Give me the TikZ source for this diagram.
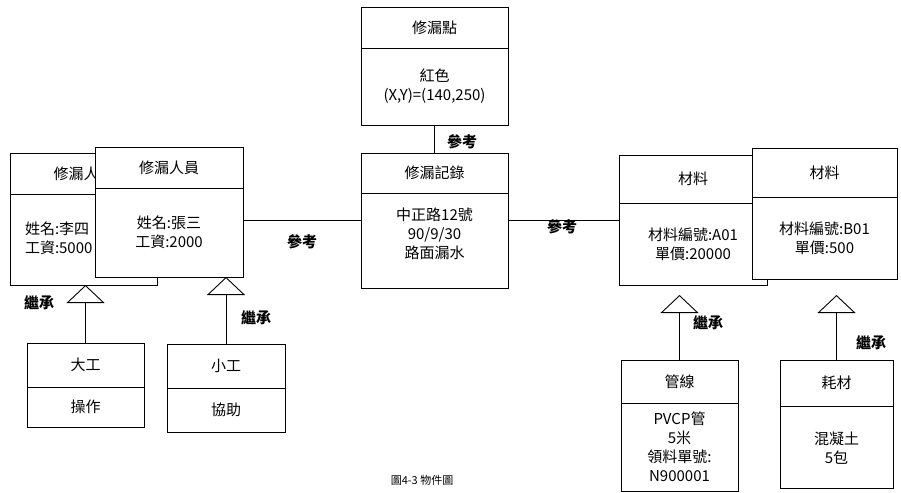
\documentclass[tikz,border=0pt]{standalone}
\usepackage{fontspec}
\setmainfont{Noto Sans CJK TC}
\usetikzlibrary{arrows.meta,positioning}

\begin{document}
\begin{tikzpicture}[x=1pt,y=-1pt,
  box/.style={draw,line width=0.9pt,fill=white,outer sep=0pt,inner sep=2pt,
    align=center,font=\fontsize{15}{19}\selectfont},
  inh/.style={line width=0.9pt,-{Triangle[open,length=18pt,width=38pt,line width=0.9pt]}},
  rel/.style={line width=0.9pt},
  lab/.style={font=\fontsize{15}{17}\selectfont\bfseries}]
\useasboundingbox (0,0) rectangle (901,492);

% Repair staff (back copy)
\node[box,minimum width=147pt,minimum height=41pt] (ls-h) at (83.5,173.5) {修漏人員};
\node[box,minimum width=147pt,minimum height=91pt,text width=117pt,inner xsep=15pt,
  align=left,below=0pt of ls-h] (ls-b) {\\[-8pt]姓名:李四\\工資:5000};

% Repair staff (front copy)
\node[box,minimum width=148pt,minimum height=41pt] (ps-h) at (169,167.5) {修漏人員};
\node[box,minimum width=148pt,minimum height=89pt,below=0pt of ps-h] (ps-b) {姓名:張三\\工資:2000};

% Workers
\node[box,minimum width=117pt,minimum height=44pt] (dg-h) at (85.5,365) {大工};
\node[box,minimum width=117pt,minimum height=40pt,below=0pt of dg-h] (dg-b) {操作};
\node[box,minimum width=118pt,minimum height=44pt] (xg-h) at (226,366) {小工};
\node[box,minimum width=118pt,minimum height=44pt,below=0pt of xg-h] (xg-b) {協助};

% Leak point and record
\node[box,minimum width=147pt,minimum height=41pt] (pt-h) at (434.5,27.5) {修漏點};
\node[box,minimum width=147pt,minimum height=77pt,below=0pt of pt-h] (pt-b) {紅色\\(X,Y)=(140,250)};
\node[box,minimum width=147pt,minimum height=40pt] (rec-h) at (434.5,173) {修漏記錄};
\node[box,minimum width=147pt,minimum height=95pt,below=0pt of rec-h] (rec-b) {中正路12號\\90/9/30\\路面漏水\\[-4pt]};

% Materials
\node[box,minimum width=148pt,minimum height=48pt] (ma-h) at (693,179) {材料};
\node[box,minimum width=148pt,minimum height=82pt,below=0pt of ma-h] (ma-b) {材料編號:A01\\單價:20000};
\node[box,minimum width=145pt,minimum height=49pt] (mb-h) at (824.5,172.5) {材料};
\node[box,minimum width=145pt,minimum height=82pt,below=0pt of mb-h] (mb-b) {材料編號:B01\\單價:500};
\node[box,minimum width=117pt,minimum height=43pt] (gx-h) at (679.5,381.5) {管線};
\node[box,minimum width=117pt,minimum height=88pt,below=0pt of gx-h] (gx-b) {PVCP管\\5米\\領料單號:\\N900001};
\node[box,minimum width=113pt,minimum height=46pt] (hc-h) at (836.5,383) {耗材};
\node[box,minimum width=113pt,minimum height=82pt,below=0pt of hc-h] (hc-b) {\\[-4pt]混凝土\\5包};

% References
\coordinate (r1) at ([yshift=20pt]rec-b.west);
\coordinate (r2) at ([yshift=20pt]rec-b.east);
\draw[rel] (r1) -- (r1 -| ps-b.east);
\draw[rel] (r2) -- (r2 -| ma-b.west);
\draw[rel] (pt-b.south) -- (rec-h.north);
\node[lab] (rf1) at (302,242) {參考};
\node[lab] (rf2) at (462,142) {參考};
\node[lab] (rf3) at (562,227) {參考};

% Inheritance
\draw[inh] (dg-h.north) -- (dg-h.north |- ls-b.south);
\draw[inh] (xg-h.north) -- (xg-h.north |- ps-b.south);
\draw[inh,shorten >=10pt] (gx-h.north) -- (gx-h.north |- ma-b.south);
\draw[inh,shorten >=16pt] (hc-h.north) -- (hc-h.north |- mb-b.south);
\node[lab] (jc1) at (39,303) {繼承};
\node[lab] (jc2) at (256,318) {繼承};
\node[lab] (jc3) at (708,323) {繼承};
\node[lab] (jc4) at (871,343) {繼承};

% Caption
\node[font=\fontsize{11}{13}\selectfont] (cap) at (422,480) {圖4-3 物件圖};
\end{tikzpicture}
\end{document}
